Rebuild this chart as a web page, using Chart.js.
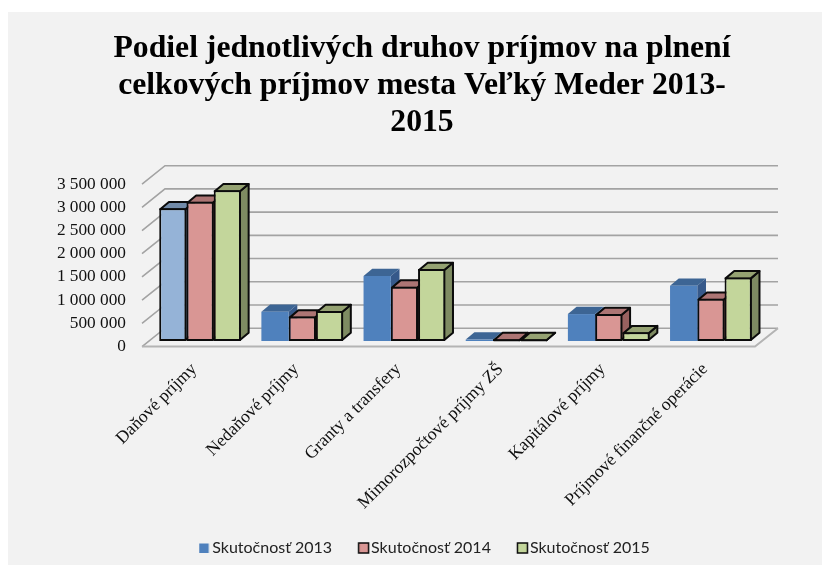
<!DOCTYPE html>
<html><head><meta charset="utf-8">
<style>
html,body{margin:0;padding:0;background:#fff;overflow:hidden;width:822px;height:565px}
canvas{position:absolute;left:8px;top:12px;background:#F2F2F2}
</style>
<script src="https://cdn.jsdelivr.net/npm/chart.js@4"></script>
</head><body>
<canvas id="c" width="828" height="554"></canvas>
<script>
const categories = ["Daňové príjmy","Nedaňové príjmy","Granty a transfery","Mimorozpočtové príjmy ZŠ","Kapitálové príjmy","Príjmové finančné operácie"];
const seriesNames = ["Skutočnosť 2013","Skutočnosť 2014","Skutočnosť 2015"];
const values2013 = [2860000,630000,1400000,30000,580000,1190000];
const values2014 = [3000000,525000,1170000,40000,580000,910000];
const values2015 = [3245000,645000,1550000,40000,190000,1370000];
const titleLines = ["Podiel jednotlivých druhov príjmov na plnení","celkových príjmov mesta Veľký Meder 2013-","2015"];

const BLUE='#4F81BD', BLUE_LIGHT='#95B3D7', RED='#D99694', GREEN='#C3D69B', INK='#0B0B0B';
const topCols=[['#728BA9','#3D6594','#3D6594','#3D6594','#3D6594','#3D6594'],'#AD7574','#95A272'];
const sideCols=[['#6F89A6','#36598A','#36598A','#36598A','#36598A','#36598A'],'#986160','#7E8B62'];
const BAR_DX=8.7, BAR_DY=7.3, FLOOR_FRONT_DX=-7, FLOOR_FRONT_DY=5.6, FLOOR_BACK_DX=16, FLOOR_BACK_DY=-12.8;
const pick=(v,i)=>Array.isArray(v)?v[i]:v;

// legend swatch: the box sits in the right half of its image, closer to the text
function swatch(fill,outlined){
  const c=document.createElement('canvas'); c.width=24; c.height=12;
  const g=c.getContext('2d');
  g.fillStyle=fill;
  if(outlined){ g.fillRect(12.5,1,10,10); g.strokeStyle=INK; g.lineWidth=1.5; g.strokeRect(12.5,1,10,10); }
  else g.fillRect(12,1.5,9.5,9.5);
  return c;
}
const swatches=[swatch(BLUE,false),swatch(RED,true),swatch(GREEN,true)];

const depth = {
  id:'depth',
  beforeDatasetsDraw(chart){
    const {ctx,chartArea:a,scales:{y}}=chart;
    ctx.save();
    ctx.lineCap='butt';
    y.ticks.forEach(t=>{
      const py=y.getPixelForValue(t.value);
      const fy=py+FLOOR_FRONT_DY, by=py+FLOOR_BACK_DY;
      const fx=a.left+FLOOR_FRONT_DX, bx=a.left+FLOOR_BACK_DX;
      ctx.strokeStyle='#A3A3A3'; ctx.lineWidth=1.6;
      ctx.beginPath(); ctx.moveTo(fx,fy); ctx.lineTo(bx,by); ctx.lineTo(a.right+FLOOR_BACK_DX,by); ctx.stroke();
    });
    const py=y.getPixelForValue(0);
    ctx.strokeStyle='#B4B4B4'; ctx.lineWidth=2;
    ctx.beginPath();
    ctx.moveTo(a.left+FLOOR_FRONT_DX,py+FLOOR_FRONT_DY);
    ctx.lineTo(a.right+FLOOR_FRONT_DX,py+FLOOR_FRONT_DY);
    ctx.lineTo(a.right+FLOOR_BACK_DX,py+FLOOR_BACK_DY);
    ctx.stroke();
    // side and top faces, left series first, all beneath the front faces
    chart.getSortedVisibleDatasetMetas().forEach(meta=>{
      const di=meta.index, ds=chart.data.datasets[di];
      meta.data.forEach((el,i)=>{
        const l=el.x-el.width/2, r=el.x+el.width/2, t=el.y, b=el.base;
        const bw=pick(ds.borderWidth,i), hw=bw/2;
        ctx.lineJoin='round'; ctx.strokeStyle=INK; ctx.lineWidth=bw;
        const face=(pts,col)=>{
          ctx.beginPath(); pts.forEach((p,k)=>k?ctx.lineTo(p[0],p[1]):ctx.moveTo(p[0],p[1])); ctx.closePath();
          ctx.fillStyle=col; ctx.fill(); if(bw) ctx.stroke();
        };
        face([[r-hw,t+hw],[r-hw+BAR_DX,t+hw-BAR_DY],[r-hw+BAR_DX,b-hw-BAR_DY],[r-hw,b-hw]],pick(sideCols[di],i));
        face([[l+hw,t+hw],[l+hw+BAR_DX,t+hw-BAR_DY],[r-hw+BAR_DX,t+hw-BAR_DY],[r-hw,t+hw]],pick(topCols[di],i));
      });
    });
    ctx.restore();
  }
};

new Chart(document.getElementById('c'),{
  type:'bar',
  plugins:[depth],
  data:{labels:categories,datasets:[
    {label:seriesNames[0],data:values2013,backgroundColor:[BLUE_LIGHT,BLUE,BLUE,BLUE,BLUE,BLUE],borderColor:INK,borderWidth:[2,0,0,0,0,0]},
    {label:seriesNames[1],data:values2014,backgroundColor:RED,borderColor:INK,borderWidth:2},
    {label:seriesNames[2],data:values2015,backgroundColor:GREEN,borderColor:INK,borderWidth:2}
  ]},
  options:{
    responsive:false,animation:false,
    layout:{padding:0},
    datasets:{bar:{categoryPercentage:0.8,barPercentage:1,clip:false,borderSkipped:false,inflateAmount:0}},
    plugins:{
      tooltip:{enabled:false},
      title:{display:true,text:titleLines,color:'#000',font:{family:'"Liberation Serif"',size:31.7,weight:'bold',lineHeight:1.167},padding:{top:18,bottom:37.5}},
      legend:{position:'bottom',labels:{
        font:{family:'Lato',size:16},color:'#222',boxWidth:10,boxHeight:10,padding:21,usePointStyle:true,
        generateLabels:()=>seriesNames.map((n,i)=>({text:n,pointStyle:swatches[i],fillStyle:[BLUE,RED,GREEN][i],strokeStyle:INK,lineWidth:i?1.5:0,datasetIndex:i,fontColor:'#222'}))
      }}
    },
    scales:{
      x:{grid:{display:false,drawTicks:false},border:{display:false},
        afterFit:s=>{s.height=178},
        ticks:{autoSkip:false,minRotation:45,maxRotation:45,padding:18,labelOffset:-6,color:'#111',font:{family:'"Liberation Serif"',size:17.6}}},
      y:{min:0,max:3500000,grid:{display:false,drawTicks:false},border:{display:false},
        afterFit:s=>{s.width=141},
        ticks:{autoSkip:false,stepSize:500000,padding:23,labelOffset:5.6,color:'#111',font:{family:'"Liberation Serif"',size:17.3},
          callback:v=>String(v).replace(/\B(?=(\d{3})+$)/g,' ')}},
      gutter:{position:'right',display:true,grid:{display:false,drawTicks:false},border:{display:false},ticks:{display:false},
        afterFit:s=>{s.width=74}}
    }
  }
});
</script>
</body></html>
